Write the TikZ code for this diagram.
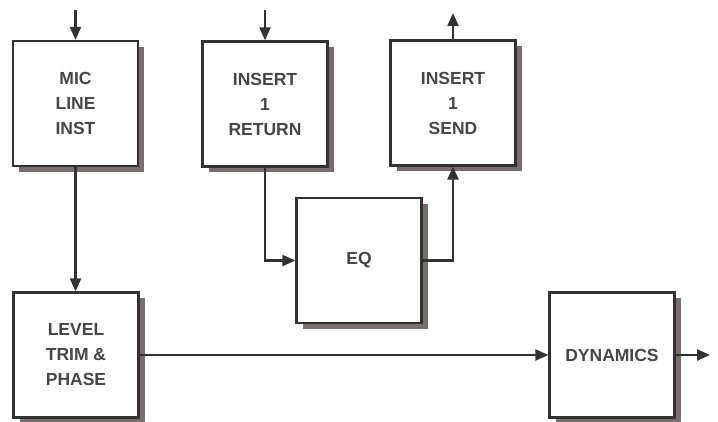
\documentclass[tikz,border=0pt]{standalone}
\usepackage{fontspec}
\setmainfont{Liberation Sans}
\usepackage{tikz}
\usetikzlibrary{arrows.meta,shadows}
\definecolor{lnclr}{RGB}{50,50,50}
\definecolor{txtclr}{RGB}{70,70,70}
\definecolor{shclr}{RGB}{120,110,110}

\begin{document}
\begin{tikzpicture}[x=1pt,y=-1pt,>={Triangle[length=13pt,width=11pt]},
  blk/.style={draw=lnclr,line width=2.2pt,fill=white,minimum width=125pt,minimum height=125pt,
    align=center,text=txtclr,font=\fontsize{17.5}{25}\selectfont\bfseries,
    drop shadow={shadow xshift=6pt,shadow yshift=-6pt,fill=shclr,opacity=1}},
  wire/.style={draw=lnclr,line width=2.2pt}]
  \useasboundingbox (0,0) rectangle (718,422);
  % top row
  \node[blk] (mic) at (75.5,103.5) {MIC\\LINE\\INST};
  \node[blk] (ret) at (265,104) {INSERT\\1\\RETURN};
  \node[blk] (send) at (453,103) {INSERT\\1\\SEND};
  \node[blk] (eq) at (359,260.5) {EQ};
  % bottom row
  \node[blk] (level) at (76,355) {LEVEL\\TRIM \&\\PHASE};
  \node[blk] (dyn) at (612,355) {DYNAMICS};
  \coordinate (micin) at (mic.north |- 0,10);
  \coordinate (retin) at (ret.north |- 0,10);
  \coordinate (sendout) at (send.north |- 0,13);
  \coordinate (dynout) at (710,355);
  \draw[wire,->] (micin) -- (mic.north);
  \draw[wire,->] (retin) -- (ret.north);
  \draw[wire,->] (send.north) -- (sendout);
  \draw[wire,->] (mic.south) -- (mic.south |- level.north);
  \draw[wire,->] (ret.south) |- (eq.west);
  \draw[wire,->] (eq.east) -| (send.south);
  \draw[wire,->] (level.east) -- (dyn.west);
  \draw[wire,->] (dyn.east) -- (dynout);
\end{tikzpicture}
\end{document}
